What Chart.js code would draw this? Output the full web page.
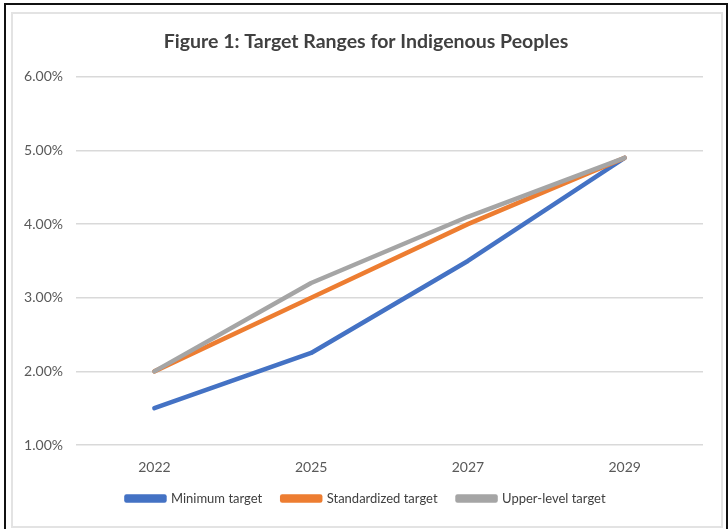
<!DOCTYPE html>
<html>
<head>
<meta charset="utf-8">
<script src="https://cdn.jsdelivr.net/npm/chart.js@4"></script>
<style>
  html, body { margin: 0; padding: 0; background: #fff; }
  #page { position: relative; width: 728px; height: 529px; overflow: hidden; }
  #outer { position: absolute; left: 4px; top: 3px; width: 720px; height: 540px;
           border: 2px solid #111; border-bottom: none; }
  #inner { position: absolute; left: 11px; top: 12px; width: 708px; height: 512px;
           border: 2px solid #e3e3e3; }
  #wrap { position: absolute; left: 0; top: 0; width: 728px; height: 529px; }
</style>
</head>
<body>
<div id="page">
  <div id="outer"></div>
  <div id="inner"></div>
  <div id="wrap"><canvas id="chart"></canvas></div>
</div>
<script>
const years = ["2022", "2025", "2027", "2029"];
const minimumTarget = [1.5, 2.25, 3.5, 4.9];
const standardizedTarget = [2.0, 3.0, 4.0, 4.9];
const upperLevelTarget = [2.0, 3.2, 4.1, 4.9];
const yTicks = [1, 2, 3, 4, 5, 6];

const font = "Lato, 'Open Sans', sans-serif";

function line(label, data, color, order) {
  return {
    label, data, order,
    borderColor: color,
    backgroundColor: color,
    borderWidth: 4.5,
    pointRadius: 0,
    tension: 0,
    borderCapStyle: "round",
    borderJoinStyle: "round"
  };
}

// let the tick labels use the space left of the axis box (keeps the title centred)
const widenLabels = {
  id: "widenLabels",
  afterLayout(chart) {
    chart.scales.y.left = 0;
    chart.scales.x.bottom = chart.height;
  }
};

new Chart(document.getElementById("chart"), {
  type: "line",
  data: {
    labels: years,
    datasets: [
      line("Minimum target", minimumTarget, "#4472C4", 2),
      line("Standardized target", standardizedTarget, "#ED7D31", 1),
      line("Upper-level target", upperLevelTarget, "#A5A5A5", 0)
    ]
  },
  plugins: [widenLabels],
  options: {
    responsive: true,
    maintainAspectRatio: false,
    animation: false,
    layout: { padding: { left: 29, right: 25, top: 0, bottom: 14 } },
    plugins: {
      title: {
        display: true,
        text: "Figure 1: Target Ranges for Indigenous Peoples",
        color: "#404040",
        font: { family: font, size: 19.5, weight: "bold" },
        padding: { top: 30, bottom: 23.5 }
      },
      legend: {
        position: "bottom",
        labels: {
          color: "#404040",
          font: { family: font, size: 13 },
          boxWidth: 38,
          boxHeight: 4,
          padding: 20,
          sort: (a, b) => a.datasetIndex - b.datasetIndex
        }
      },
      tooltip: { enabled: false }
    },
    scales: {
      x: {
        offset: true,
        afterFit: s => { s.height = 27; },
        grid: { display: false, drawTicks: false },
        border: { display: false },
        ticks: { color: "#595959", font: { family: font, size: 14 }, padding: 14 }
      },
      y: {
        min: yTicks[0],
        max: yTicks[yTicks.length - 1],
        afterBuildTicks: s => { s.ticks = yTicks.map(v => ({ value: v })); },
        afterFit: s => { s.width = 47; },
        grid: { color: "#d9d9d9", lineWidth: 1.5, drawTicks: false },
        border: { display: false },
        ticks: {
          color: "#595959",
          font: { family: font, size: 14 },
          padding: 13,
          callback: v => v.toFixed(2) + "%"
        }
      }
    }
  }
});
</script>
</body>
</html>
